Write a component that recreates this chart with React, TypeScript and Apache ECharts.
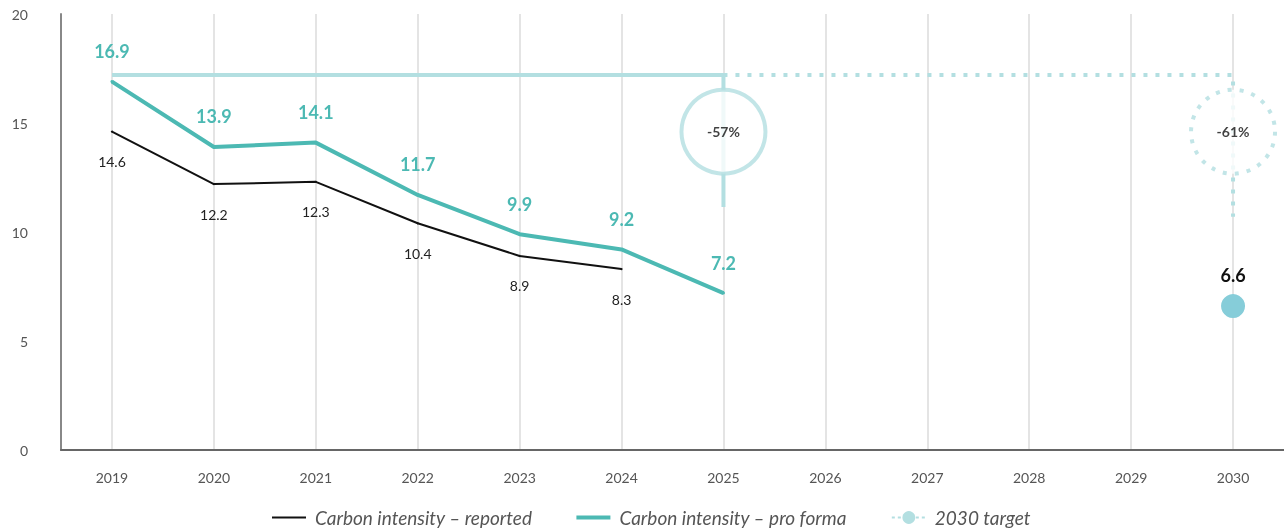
import React, { useEffect, useRef } from "react";
import * as echarts from "echarts";

const years = ["2019", "2020", "2021", "2022", "2023", "2024", "2025", "2026", "2027", "2028", "2029", "2030"];
const reported = [14.6, 12.2, 12.3, 10.4, 8.9, 8.3, null, null, null, null, null, null];
const proForma = [16.9, 13.9, 14.1, 11.7, 9.9, 9.2, 7.2, null, null, null, null, null];
const target = [null, null, null, null, null, null, null, null, null, null, null, 6.6];
const yTicks = [0, 5, 10, 15, 20];

const bracketLevel = 17.2;
const circleLevel = 14.6;
const bracket2025 = [["2019", bracketLevel], ["2025", bracketLevel], ["2025", 11.15]];
const bracket2030 = [["2025", bracketLevel], ["2030", bracketLevel], ["2030", 10.7]];
const reductions = [
  { year: "2025", text: "-57%" },
  { year: "2030", text: "-61%" },
];

const TEAL = "#4cb9b3";
const LIGHT = "#b3dfe1";
const DOT = "#86cdd9";
const FONT = "Lato, 'Open Sans', sans-serif";

export default function App() {
  const ref = useRef<HTMLDivElement>(null);
  useEffect(() => {
    const chart = echarts.init(ref.current!, null, { renderer: "svg" });
    chart.setOption({
      animation: false,
      textStyle: { fontFamily: FONT },
      grid: { left: 61, width: 1226, top: 14, bottom: 82 },
      legend: {
        left: 272,
        top: 508,
        padding: 0,
        itemWidth: 34,
        itemHeight: 16,
        itemGap: 44,
        textStyle: {
          color: "#555",
          fontStyle: "italic",
          fontSize: 19,
          fontFamily: FONT,
          padding: [0, 0, 0, 4],
        },
        data: [
          { name: "Carbon intensity – reported", icon: "path://M0,0H34V2H0Z", itemStyle: { color: "#111" } },
          { name: "Carbon intensity – pro forma", icon: "path://M0,0H34V4H0Z", itemStyle: { color: TEAL } },
          {
            name: "2030 target",
            itemStyle: { color: LIGHT },
            lineStyle: { color: LIGHT, type: [3, 3], width: 2 },
          },
        ],
      },
      xAxis: {
        type: "category",
        data: years,
        boundaryGap: true,
        axisLine: { lineStyle: { color: "#666", width: 2 } },
        axisTick: { show: false },
        axisLabel: { color: "#555", fontSize: 14, margin: 20 },
        splitLine: { show: false },
      },
      yAxis: {
        type: "value",
        min: 0,
        max: 20,
        interval: 5,
        axisLine: { show: true, lineStyle: { color: "#888", width: 2 } },
        axisTick: { show: false },
        splitLine: { show: false },
        axisLabel: {
          color: "#555",
          fontSize: 14,
          margin: 33,
          formatter: (v: number) => (yTicks.includes(v) ? String(v) : ""),
        },
      },
      series: [
        {
          name: "grid",
          type: "line",
          data: [],
          silent: true,
          z: 0,
          markLine: {
            silent: true,
            z: 0,
            symbol: "none",
            label: { show: false },
            lineStyle: { color: "#e4e4e4", width: 2, type: "solid" },
            data: years.map((y) => ({ xAxis: y })),
          },
        },
        {
          name: "bracket2025",
          type: "line",
          data: bracket2025,
          symbol: "none",
          silent: true,
          z: 1,
          lineStyle: { color: LIGHT, width: 4 },
        },
        {
          name: "bracket2030",
          type: "line",
          data: bracket2030,
          symbol: "none",
          silent: true,
          z: 1,
          lineStyle: { color: LIGHT, width: 4, type: [4, 8], cap: "butt" },
        },
        {
          name: "circles",
          type: "scatter",
          silent: true,
          z: 8,
          symbol: "circle",
          symbolSize: 84,
          data: reductions.map((r, i) => ({
            value: [r.year, circleLevel],
            itemStyle: {
              color: "#fff",
              borderColor: LIGHT,
              borderWidth: 4,
              borderType: i === 0 ? "solid" : [4, 8],
            },
            label: {
              show: true,
              position: "inside",
              formatter: r.text,
              color: "#111",
              fontWeight: "bold",
              fontSize: 14,
            },
          })),
        },
        {
          name: "Carbon intensity – reported",
          type: "line",
          data: reported,
          symbol: "circle",
          symbolSize: 2,
          showSymbol: true,
          z: 4,
          color: "#111",
          itemStyle: { color: "#111" },
          lineStyle: { color: "#111", width: 2 },
          label: {
            show: true,
            position: "bottom",
            distance: 22,
            color: "#222",
            fontSize: 14,
          },
        },
        {
          name: "Carbon intensity – pro forma",
          type: "line",
          data: proForma,
          symbol: "circle",
          symbolSize: 3,
          showSymbol: true,
          z: 5,
          color: TEAL,
          itemStyle: { color: TEAL },
          lineStyle: { color: TEAL, width: 4 },
          label: {
            show: true,
            position: "top",
            distance: 20,
            color: TEAL,
            fontWeight: "bold",
            fontSize: 18,
          },
        },
        {
          name: "2030 target",
          type: "line",
          data: target,
          symbol: "circle",
          symbolSize: 24,
          z: 5,
          color: DOT,
          itemStyle: { color: DOT },
          lineStyle: { color: LIGHT, type: [3, 3], width: 2 },
          label: {
            show: true,
            position: "top",
            distance: 10,
            color: "#111",
            fontWeight: "bold",
            fontSize: 18,
          },
        },
      ],
    });
    return () => chart.dispose();
  }, []);
  return (
    <div
      ref={ref}
      style={{ position: "fixed", left: 0, top: 0, width: 1284, height: 532 }}
    />
  );
}
